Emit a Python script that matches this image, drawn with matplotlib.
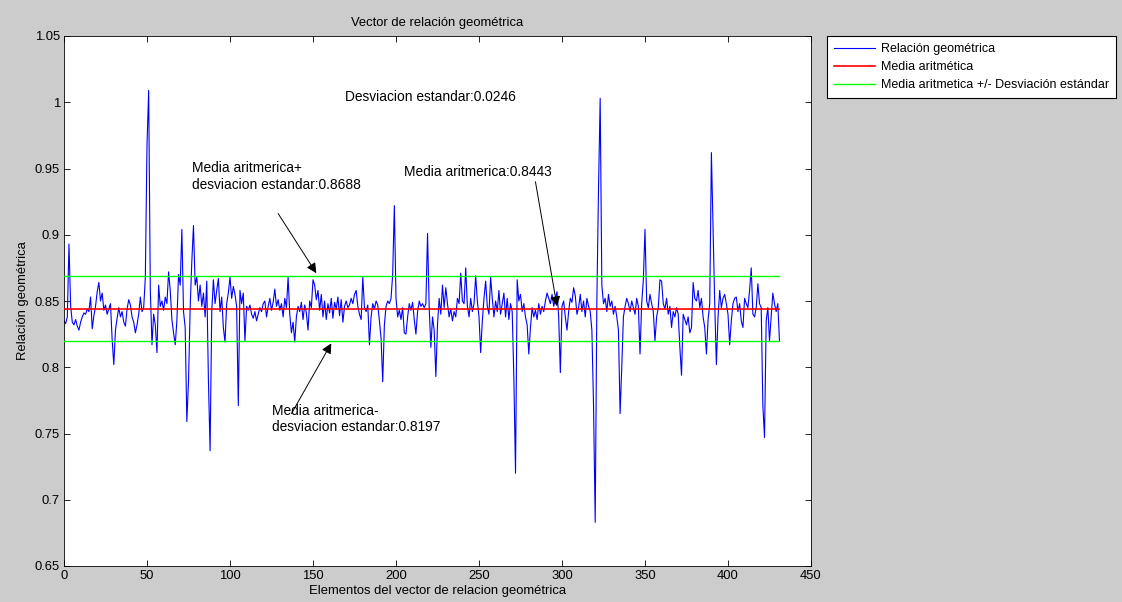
"""Vector de relación geométrica: señal, media y bandas de +/- una desviación estándar."""

import matplotlib

matplotlib.use("Agg")

import matplotlib.pyplot as plt  # noqa: E402
import numpy as np  # noqa: E402
from matplotlib.ticker import FuncFormatter  # noqa: E402

# values, one per element of the vector (index 0..431)
relacion = [
    0.835, 0.833, 0.838, 0.893, 0.846, 0.834, 0.832, 0.836, 0.831, 0.828,
    0.834, 0.838, 0.841, 0.840, 0.844, 0.842, 0.853, 0.829, 0.839, 0.846,
    0.857, 0.864, 0.850, 0.856, 0.843, 0.847, 0.840, 0.844, 0.848, 0.821,
    0.802, 0.828, 0.837, 0.845, 0.838, 0.842, 0.834, 0.831, 0.844, 0.851,
    0.847, 0.838, 0.834, 0.826, 0.832, 0.840, 0.853, 0.842, 0.845, 0.868,
    0.968, 1.009, 0.858, 0.817, 0.840, 0.832, 0.811, 0.862, 0.846, 0.850,
    0.843, 0.853, 0.848, 0.872, 0.858, 0.836, 0.826, 0.817, 0.835, 0.870,
    0.862, 0.904, 0.842, 0.830, 0.759, 0.789, 0.845, 0.880, 0.907, 0.862,
    0.868, 0.850, 0.862, 0.846, 0.856, 0.838, 0.865, 0.790, 0.737, 0.842,
    0.866, 0.848, 0.858, 0.867, 0.842, 0.853, 0.830, 0.819, 0.848, 0.856,
    0.868, 0.852, 0.861, 0.855, 0.846, 0.771, 0.858, 0.848, 0.856, 0.820,
    0.846, 0.843, 0.847, 0.840, 0.837, 0.842, 0.835, 0.840, 0.845, 0.842,
    0.848, 0.850, 0.838, 0.846, 0.852, 0.843, 0.849, 0.859, 0.846, 0.851,
    0.843, 0.848, 0.838, 0.852, 0.845, 0.868, 0.840, 0.826, 0.834, 0.819,
    0.838, 0.846, 0.842, 0.849, 0.836, 0.847, 0.841, 0.828, 0.850, 0.845,
    0.866, 0.862, 0.851, 0.858, 0.843, 0.855, 0.838, 0.850, 0.836, 0.848,
    0.841, 0.852, 0.837, 0.849, 0.844, 0.853, 0.839, 0.851, 0.834, 0.846,
    0.850, 0.845, 0.847, 0.852, 0.848, 0.855, 0.858, 0.846, 0.840, 0.836,
    0.868, 0.845, 0.842, 0.847, 0.817, 0.838, 0.848, 0.844, 0.850, 0.847,
    0.835, 0.822, 0.789, 0.832, 0.846, 0.850, 0.848, 0.852, 0.870, 0.922,
    0.852, 0.838, 0.843, 0.836, 0.845, 0.826, 0.825, 0.838, 0.848, 0.843,
    0.849, 0.836, 0.825, 0.842, 0.850, 0.846, 0.848, 0.845, 0.848, 0.901,
    0.845, 0.815, 0.838, 0.828, 0.793, 0.832, 0.852, 0.840, 0.862, 0.845,
    0.860, 0.848, 0.838, 0.844, 0.835, 0.842, 0.838, 0.852, 0.848, 0.871,
    0.850, 0.848, 0.875, 0.846, 0.838, 0.852, 0.842, 0.848, 0.869, 0.850,
    0.838, 0.811, 0.835, 0.852, 0.865, 0.846, 0.840, 0.868, 0.852, 0.838,
    0.850, 0.842, 0.858, 0.840, 0.848, 0.856, 0.838, 0.852, 0.836, 0.848,
    0.842, 0.792, 0.720, 0.866, 0.850, 0.855, 0.842, 0.848, 0.838, 0.832,
    0.810, 0.830, 0.845, 0.838, 0.843, 0.836, 0.848, 0.840, 0.846, 0.842,
    0.850, 0.856, 0.852, 0.848, 0.855, 0.846, 0.852, 0.857, 0.838, 0.796,
    0.846, 0.850, 0.838, 0.828, 0.842, 0.852, 0.849, 0.860, 0.854, 0.840,
    0.845, 0.855, 0.842, 0.850, 0.838, 0.852, 0.846, 0.842, 0.828, 0.771,
    0.683, 0.850, 0.935, 1.003, 0.862, 0.848, 0.852, 0.842, 0.855, 0.846,
    0.850, 0.840, 0.846, 0.838, 0.828, 0.765, 0.800, 0.838, 0.846, 0.852,
    0.848, 0.842, 0.850, 0.845, 0.840, 0.852, 0.846, 0.810, 0.848, 0.866,
    0.904, 0.850, 0.845, 0.855, 0.848, 0.842, 0.820, 0.838, 0.845, 0.866,
    0.865, 0.848, 0.844, 0.852, 0.840, 0.846, 0.830, 0.842, 0.838, 0.845,
    0.840, 0.815, 0.794, 0.840, 0.836, 0.832, 0.838, 0.826, 0.830, 0.864,
    0.852, 0.850, 0.858, 0.845, 0.852, 0.838, 0.830, 0.810, 0.836, 0.848,
    0.962, 0.905, 0.848, 0.802, 0.838, 0.858, 0.845, 0.852, 0.855, 0.848,
    0.840, 0.817, 0.835, 0.848, 0.852, 0.853, 0.842, 0.848, 0.835, 0.830,
    0.852, 0.848, 0.845, 0.858, 0.875, 0.840, 0.838, 0.845, 0.863, 0.848,
    0.845, 0.771, 0.747, 0.835, 0.845, 0.820, 0.838, 0.856, 0.848, 0.842,
    0.848, 0.820,
]

# statistics as printed in the figure (the bands use these, not a recomputation)
media = 0.8443
desviacion = 0.0246
media_mas = 0.8688
media_menos = 0.8197

x_ticks = [0, 50, 100, 150, 200, 250, 300, 350, 400, 450]
y_ticks = [0.65, 0.70, 0.75, 0.80, 0.85, 0.90, 0.95, 1.00, 1.05]

FONT = ["Liberation Sans", "DejaVu Sans"]
FS = 9.4       # title, ticks
FS_LEG = 9.0   # legend
FS_NOTE = 9.9  # free-standing annotations
W, H = 1122, 602  # target pixels at dpi=100


def _fx(px):
    return px / W


def _fy(py):
    return 1 - py / H


plt.rcParams["font.family"] = FONT
plt.rcParams["font.size"] = FS

fig = plt.figure(figsize=(W / 100, H / 100), dpi=100, facecolor=(0.8, 0.8, 0.8))
ax = fig.add_axes([_fx(64), _fy(566), _fx(811 - 64), (566 - 36) / H])

y = np.array(relacion)
x = np.arange(len(y))
ends = [x[0], x[-1]]

ax.plot(x, y, color="blue", lw=0.8, label="Relación geométrica", zorder=2)
ax.plot(ends, [media, media], color=(1, 0, 0), lw=1.2, label="Media aritmética", zorder=3)
ax.plot(ends, [media_mas, media_mas], color=(0, 1, 0), lw=1.0,
        label="Media aritmetica +/- Desviación estándar", zorder=3)
ax.plot(ends, [media_menos, media_menos], color=(0, 1, 0), lw=1.0, zorder=3)

ax.set_xlim(0, 450)
ax.set_ylim(0.65, 1.05)
ax.set_xticks(x_ticks)
ax.set_yticks(y_ticks)
ax.yaxis.set_major_formatter(FuncFormatter(lambda v, _: f"{v:g}"))
ax.tick_params(direction="in", top=True, right=True, length=4, width=0.6,
               labelsize=FS, pad=3)
for s in ax.spines.values():
    s.set_linewidth(0.6)

ax.set_title("Vector de relación geométrica", fontsize=FS, pad=7)
ax.set_xlabel("Elementos del vector de relacion geométrica", fontsize=FS, labelpad=2)
ax.set_ylabel("Relación geométrica", fontsize=FS, labelpad=4)

# free-standing text boxes + arrows, as placed in the original figure
ax.text(169, 1.004, f"Desviacion estandar:{desviacion:.4f}", va="center", fontsize=FS_NOTE)
ax.text(77, 0.944, f"Media aritmerica+\ndesviacion estandar:{media_mas:.4f}",
        va="center", fontsize=FS_NOTE, linespacing=1.2)
ax.text(205, 0.947, f"Media aritmerica:{media:.4f}", va="center", fontsize=FS_NOTE)
ax.text(125, 0.761, f"Media aritmerica-\ndesviacion estandar:{media_menos:.4f}",
        va="center", fontsize=FS_NOTE, linespacing=1.2)

arrow = dict(arrowstyle="-|>", color="black", lw=0.7, mutation_scale=15,
             shrinkA=0, shrinkB=0)
ax.annotate("", xy=(152, 0.871), xytext=(129, 0.916), arrowprops=arrow)
ax.annotate("", xy=(297, 0.846), xytext=(284, 0.940), arrowprops=arrow)
ax.annotate("", xy=(161, 0.818), xytext=(137, 0.765), arrowprops=arrow)

leg = fig.legend(loc="upper left", bbox_to_anchor=(_fx(827), _fy(36)),
                 borderaxespad=0, fancybox=False, edgecolor="black",
                 framealpha=1, fontsize=FS_LEG, handlelength=3.3, borderpad=0.55,
                 labelspacing=0.5, handletextpad=0.5)
leg.get_frame().set_linewidth(0.8)

fig.savefig("out.png", dpi=100, facecolor=fig.get_facecolor())
